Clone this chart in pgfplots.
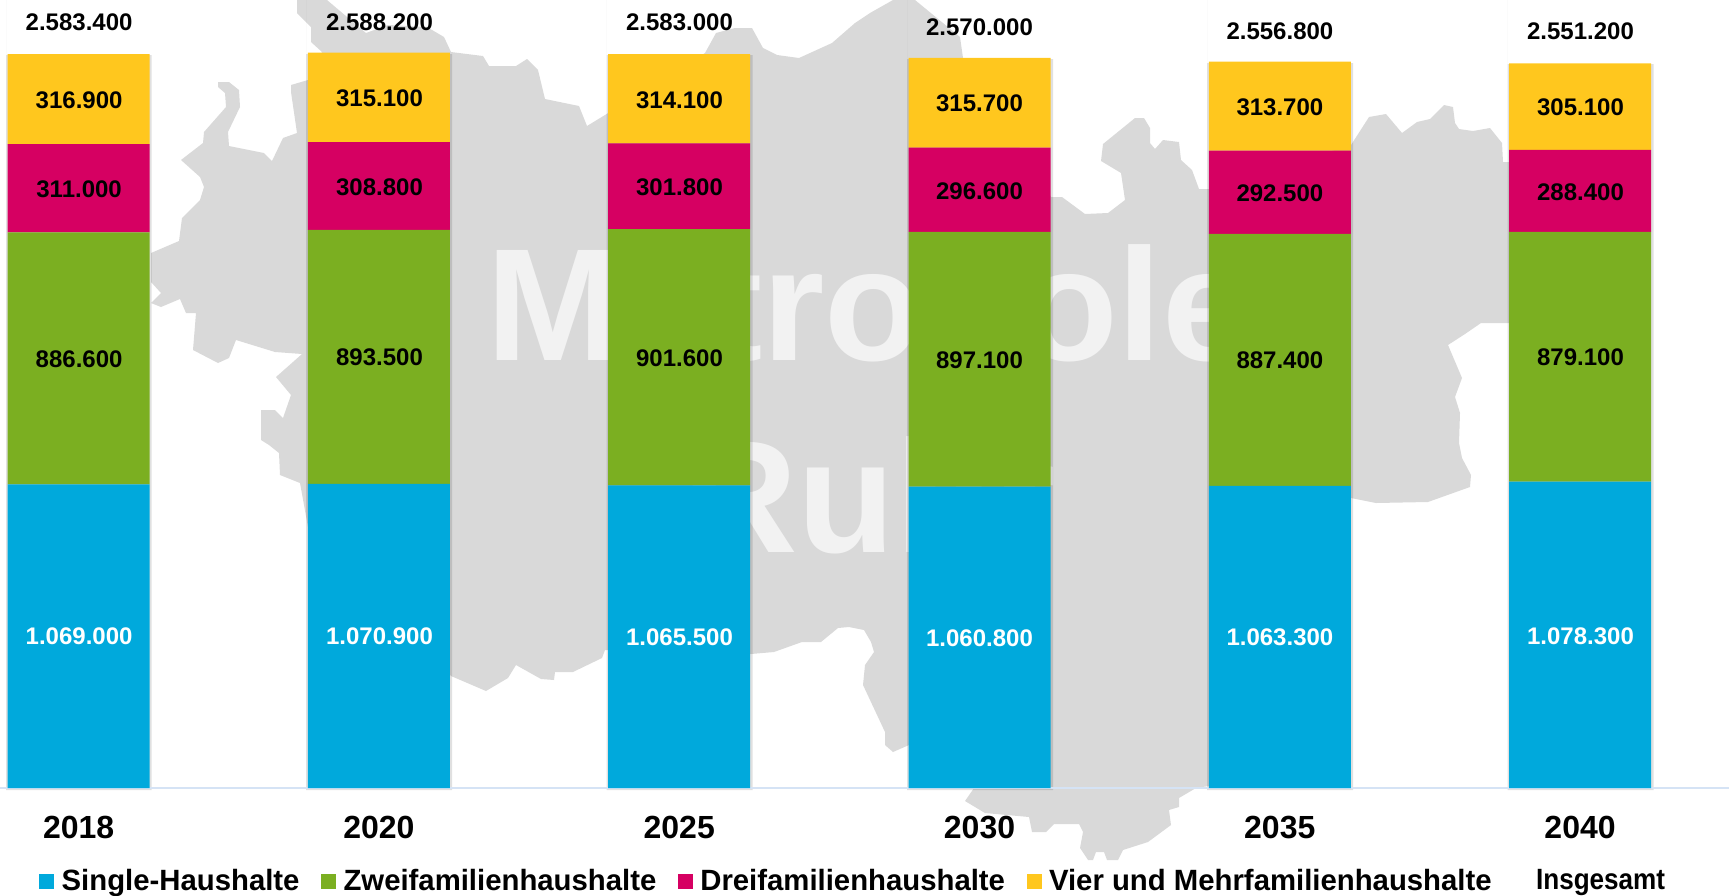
\documentclass[border=0pt]{standalone}
\usepackage{fontspec}
\setmainfont{Liberation Sans}
\usepackage{pgfplots}
\pgfplotsset{compat=1.18}
\definecolor{cSingle}{HTML}{00A9DC}
\definecolor{cZwei}{HTML}{7BAF21}
\definecolor{cDrei}{HTML}{D60062}
\definecolor{cVier}{HTML}{FFC71E}
\definecolor{cMap}{HTML}{D9D9D9}
\definecolor{cWater}{HTML}{F2F2F2}
\definecolor{cBase}{HTML}{D5E3F5}
% 1 px of the reference = 0.5pt
\pgfplotsset{
  page/.style={scale only axis, width=864.5pt, height=447.5pt, at={(0,0)}, anchor=south west},
  pxaxis/.style={page, axis lines=none, xmin=0, xmax=1729, ymin=0, ymax=895, y dir=reverse, clip=true},
  shadow/.style={fill=black, draw=none, opacity=0.12, forget plot},
  vals/.style={draw=none, mark=none, forget plot, point meta=explicit symbolic,
    nodes near coords, nodes near coords align={center},
    every node near coord/.append style={font=\fontsize{12}{14}\selectfont\bfseries, inner sep=0pt, text=#1}},
}
\begin{document}
\begin{tikzpicture}
% background map, pixel coordinates
\begin{axis}[pxaxis]
\addplot[fill=cMap, draw=none, forget plot] coordinates {
(322,0)(327,0)(366,33)(388,25)(427,27)(444,37)(451,52)(483,56)(489,66)(516,66)(527,59)(538,70)(545,99)(579,106)(587,126)(605,115)
(705,53)(716,33)(735,28)(752,28)(763,48)(777,55)(799,58)(832,43)(855,23)(870,13)(893,0)(915,0)(960,37)(963,58)
(1051,197)(1062,197)(1085,214)(1108,213)(1125,200)(1121,173)(1101,161)(1103,144)(1135,118)(1144,118)(1150,128)(1150,143)(1155,149)(1163,140)(1179,142)(1181,160)(1192,170)(1199,189)(1209,189)
(1351,145)(1369,117)(1386,114)(1402,133)(1417,122)(1430,119)(1444,105)(1453,107)(1455,123)(1459,129)(1473,131)(1490,128)(1502,143)(1503,162)(1510,162)
(1510,323)(1481,323)(1465,334)(1448,345)(1462,378)(1455,397)(1460,413)(1459,443)(1462,458)(1471,475)(1470,487)(1428,502)(1376,503)(1351,498)
(1209,786)(1196,788)(1179,798)(1179,807)(1169,810)(1171,825)(1148,842)(1123,850)(1118,860)(1107,860)(1104,852)(1096,852)(1093,860)(1088,860)(1080,848)(1083,832)(1079,824)(1054,824)(1046,832)(1032,832)(1029,817)(985,813)(965,801)(974,788)
(909,745)(893,752)(885,745)(885,732)(863,685)(865,665)(874,652)(871,642)(864,630)(849,627)(838,628)(821,642)(802,642)(774,652)(751,654)
(605,650)(602,658)(573,672)(555,672)(554,680)(541,679)(516,665)(508,678)(486,691)(451,676)
(308,527)(300,483)(280,475)(279,453)(269,445)(261,440)(261,410)(275,410)(283,418)(291,395)(276,377)(302,354)(275,352)(236,340)(229,358)(218,363)(193,350)(196,313)(186,313)(180,299)(161,307)(151,303)(161,293)(151,282)
(151,253)(179,241)(182,218)(200,200)(204,187)(200,177)(181,160)(203,143)(204,132)(226,107)(225,93)(218,87)(218,82)(229,82)(239,90)(240,107)(228,132)(229,146)(264,153)(272,161)(283,138)(297,133)(291,92)(291,85)(308,80)
(322,52)(311,42)(311,27)(297,13)(297,3)} \closedcycle;
\node[anchor=base, inner sep=0pt, text=cWater, font=\fontsize{80}{96}\selectfont\bfseries] at (axis cs:869,360) {Metropole};
\node[anchor=base, inner sep=0pt, text=cWater, font=\fontsize{80}{96}\selectfont\bfseries] at (axis cs:869,552) {Ruhr};
% soft edge of the bars
\addplot[shadow] coordinates {(6,55)(151.5,55)(151.5,790)(6,790)} \closedcycle;
\addplot[shadow] coordinates {(306,54)(452,54)(452,790)(306,790)} \closedcycle;
\addplot[shadow] coordinates {(606.5,55)(752.5,55)(752.5,790)(606.5,790)} \closedcycle;
\addplot[shadow] coordinates {(907,59)(1053,59)(1053,790)(907,790)} \closedcycle;
\addplot[shadow] coordinates {(1207,63)(1353,63)(1353,790)(1207,790)} \closedcycle;
\addplot[shadow] coordinates {(1507.5,64)(1653.5,64)(1653.5,790)(1507.5,790)} \closedcycle;
\end{axis}
% stacked bars
\begin{axis}[page, ybar stacked, bar width=71pt,
  xmin=-0.262, xmax=5.496, ymin=-376640, ymax=2773760,
  axis x line=middle, axis y line=none,
  axis line style={-, cBase, line width=1pt},
  xtick={0,1,2,3,4,5}, xticklabels={2018,2020,2025,2030,2035,2040},
  major tick length=0pt,
  x tick label style={font=\fontsize{16}{18}\selectfont\bfseries, anchor=center, yshift=-19.8pt},
  legend columns=5,
  legend cell align=left,
  legend style={at={(axis description cs:0.0227,0.0155)}, anchor=west, draw=none, fill=none, inner sep=0pt, outer sep=0pt,
    font=\fontsize{14.66}{16}\selectfont\bfseries,
    /tikz/every even column/.style={column sep=8.8pt}},
  legend image code/.code={\fill[#1] (0pt,-3.75pt) rectangle (7.5pt,3.75pt); \path (9.2pt,0pt);},
]
\addplot[fill=cSingle, draw=none] coordinates {(0,1069000)(1,1070900)(2,1065500)(3,1060800)(4,1063300)(5,1078300)};
\addplot[fill=cZwei, draw=none] coordinates {(0,886600)(1,893500)(2,901600)(3,897100)(4,887400)(5,879100)};
\addplot[fill=cDrei, draw=none] coordinates {(0,311000)(1,308800)(2,301800)(3,296600)(4,292500)(5,288400)};
\addplot[fill=cVier, draw=none] coordinates {(0,316900)(1,315100)(2,314100)(3,315700)(4,313700)(5,305100)};
\legend{Single-Haushalte,Zweifamilienhaushalte,Dreifamilienhaushalte,Vier und Mehrfamilienhaushalte}
\addlegendimage{empty legend}
\addlegendentry{\hspace*{9.4pt}\scalebox{0.89}[1]{Insgesamt}}
\end{axis}
% value labels
\begin{axis}[pxaxis, clip=false, xmin=0.5, xmax=1729.5, ymin=-1, ymax=894]
\addplot[vals=black] coordinates {
(79.6,21.7)[2.583.400] (79.6,99.3)[316.900] (79.6,188.3)[311.000] (79.6,358.3)[886.600]
(380,21)[2.588.200] (380,97.7)[315.100] (380,186.7)[308.800] (380,356.7)[893.500]
(680,21.7)[2.583.000] (680,99.3)[314.100] (680,186.7)[301.800] (680,357.7)[901.600]
(980,26)[2.570.000] (980,102.7)[315.700] (980,190)[296.600] (980,359.3)[897.100]
(1280.4,30)[2.556.800] (1280.4,106.7)[313.700] (1280.4,192.7)[292.500] (1280.4,359.3)[887.400]
(1581,30.7)[2.551.200] (1581,106.7)[305.100] (1581,191.7)[288.400] (1581,356.7)[879.100]};
\addplot[vals=white] coordinates {
(79.6,635.7)[1.069.000] (380,635.7)[1.070.900] (680,636.7)[1.065.500]
(980,637.7)[1.060.800] (1280.4,636.7)[1.063.300] (1581,635)[1.078.300]};
\end{axis}
\pgfresetboundingbox
\path (0,0) rectangle (864.5pt,447.5pt);
\end{tikzpicture}
\end{document}
